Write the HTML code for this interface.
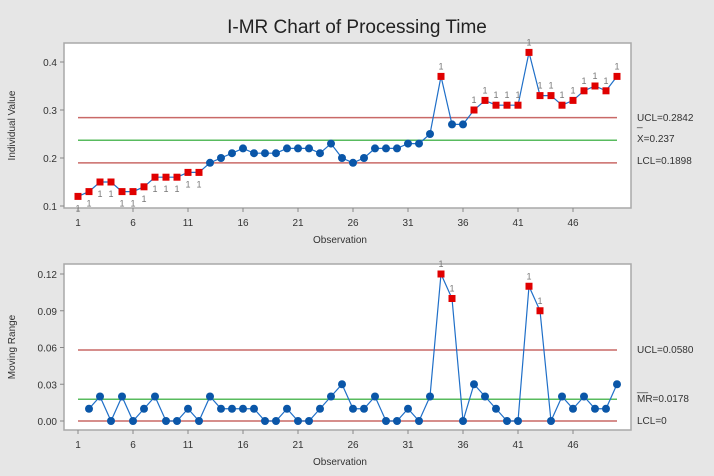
<!DOCTYPE html>
<html><head><meta charset="utf-8"><style>
html,body{margin:0;padding:0;background:#e6e6e6;}
svg{display:block;font-family:"Liberation Sans",sans-serif;}
</style></head><body>
<svg id="c" width="714" height="476" viewBox="0 0 714 476" xmlns="http://www.w3.org/2000/svg">
<rect x="0" y="0" width="714" height="476" fill="#e6e6e6"/>
<text x="357" y="33" text-anchor="middle" font-size="19" fill="#222">I-MR Chart of Processing Time</text>
</svg>
<script>
const observations = [1,2,3,4,5,6,7,8,9,10,11,12,13,14,15,16,17,18,19,20,21,22,23,24,25,26,27,28,29,30,31,32,33,34,35,36,37,38,39,40,41,42,43,44,45,46,47,48,49,50];
const individualValues = [0.12,0.13,0.15,0.15,0.13,0.13,0.14,0.16,0.16,0.16,0.17,0.17,0.19,0.20,0.21,0.22,0.21,0.21,0.21,0.22,0.22,0.22,0.21,0.23,0.20,0.19,0.20,0.22,0.22,0.22,0.23,0.23,0.25,0.37,0.27,0.27,0.30,0.32,0.31,0.31,0.31,0.42,0.33,0.33,0.31,0.32,0.34,0.35,0.34,0.37];
const individualFlag = [1,1,1,1,1,1,1,1,1,1,1,1,0,0,0,0,0,0,0,0,0,0,0,0,0,0,0,0,0,0,0,0,0,1,0,0,1,1,1,1,1,1,1,1,1,1,1,1,1,1];
const movingRanges = [null,0.01,0.02,0,0.02,0,0.01,0.02,0,0,0.01,0,0.02,0.01,0.01,0.01,0.01,0,0,0.01,0,0,0.01,0.02,0.03,0.01,0.01,0.02,0,0,0.01,0,0.02,0.12,0.10,0,0.03,0.02,0.01,0,0,0.11,0.09,0,0.02,0.01,0.02,0.01,0.01,0.03];
const mrFlag = [0,0,0,0,0,0,0,0,0,0,0,0,0,0,0,0,0,0,0,0,0,0,0,0,0,0,0,0,0,0,0,0,0,1,1,0,0,0,0,0,0,1,1,0,0,0,0,0,0,0];
const xTicks = [1,6,11,16,21,26,31,36,41,46];
const iTicks = [0.1,0.2,0.3,0.4];
const iTickLabels = ["0.1","0.2","0.3","0.4"];
const mrTicks = [0,0.03,0.06,0.09,0.12];
const mrTickLabels = ["0.00","0.03","0.06","0.09","0.12"];
const iLimits = {ucl:0.2842, center:0.237, lcl:0.1898};
const mrLimits = {ucl:0.058, center:0.0178, lcl:0};

const NS="http://www.w3.org/2000/svg";
const svg=document.getElementById('c');
function mk(tag,attrs,parent){const e=document.createElementNS(NS,tag);for(const k in attrs)e.setAttribute(k,attrs[k]);(parent||svg).appendChild(e);return e;}
const xScale=o=>78+(o-1)*11.0;

function panel(cfg){
  const g=mk('g',{});
  
  
  const fr=mk('rect',{x:64,y:cfg.top,width:567,height:cfg.bottom-cfg.top,fill:'#fff',stroke:'#a8a8a8','stroke-width':1.5},g);
  
  
  const ys=cfg.y;
  cfg.ticks.forEach((t,i)=>{
    mk('line',{x1:60,x2:64,y1:ys(t),y2:ys(t),stroke:'#888'},g);
    const tx=mk('text',{x:57,y:ys(t)+4,'text-anchor':'end','font-size':10,fill:'#333'},g);
    tx.textContent=cfg.tickLabels[i];
    
    
  });
  xTicks.forEach(t=>{
    mk('line',{x1:xScale(t),x2:xScale(t),y1:cfg.bottom,y2:cfg.bottom+4,stroke:'#888'},g);
    const tx=mk('text',{x:xScale(t),y:cfg.bottom+18,'text-anchor':'middle','font-size':10,fill:'#333'},g);
    tx.textContent=String(t);
    
    
  });
  const xt=mk('text',{x:340,y:cfg.bottom+35,'text-anchor':'middle','font-size':10,fill:'#333'},g);
  xt.textContent='Observation';
  
  
  const yt=mk('text',{x:0,y:0,'text-anchor':'middle','font-size':10,fill:'#333',transform:`translate(15,${(cfg.top+cfg.bottom)/2}) rotate(-90)`},g);
  yt.textContent=cfg.yTitle;
  
  
  // limit lines
  [['ucl','#c0504d'],['center','#3cb043'],['lcl','#c0504d']].forEach(([k,c])=>{
    const l=mk('line',{x1:78,x2:617,y1:ys(cfg.lim[k]),y2:ys(cfg.lim[k]),stroke:c,'stroke-width':1.5,opacity:0.85},g);
    
    
  });
  cfg.limLabels.forEach(L=>{
    const t=mk('text',{x:637,y:L.y,'font-size':10,fill:'#333'},g);
    t.textContent=L.t;
    
    
  });
  // series line
  let pts=[];
  cfg.vals.forEach((v,i)=>{if(v!==null)pts.push(xScale(observations[i])+','+ys(v));});
  const pl=mk('polyline',{points:pts.join(' '),fill:'none',stroke:'#1f6fc8','stroke-width':1.2},g);
  
  
  cfg.vals.forEach((v,i)=>{
    if(v===null)return;
    const x=xScale(observations[i]),y=ys(v);
    if(cfg.flag[i]){
      const r=mk('rect',{x:x-3.5,y:y-3.5,width:7,height:7,fill:'#e00000'},g);
      
      
      const below=cfg.below(i);
      const t=mk('text',{x:x+(below?(i%2?0:0):0),y:below?y+15:y-7,'text-anchor':'middle','font-size':9,fill:'#777'},g);
      t.textContent='1';
      
      
    } else {
      const c=mk('circle',{cx:x,cy:y,r:4,fill:'#0a56a8'},g);
      
      
    }
  });
}

panel({name:'individuals-chart',top:43,bottom:208,y:v=>206-(v-0.1)*480,ticks:iTicks,tickLabels:iTickLabels,yTitle:'Individual Value',
  lim:iLimits,vals:individualValues,flag:individualFlag,below:i=>i<12,
  limLabels:[{t:'UCL=0.2842',y:121,n:'ucl-label'},{t:'_',y:126,n:'xbar-bar'},{t:'X=0.237',y:142,n:'center-label'},{t:'LCL=0.1898',y:164,n:'lcl-label'}]});
panel({name:'moving-range-chart',top:264,bottom:430,y:v=>421-v*1225,ticks:mrTicks,tickLabels:mrTickLabels,yTitle:'Moving Range',
  lim:mrLimits,vals:movingRanges,flag:mrFlag,below:i=>false,
  limLabels:[{t:'UCL=0.0580',y:353,n:'mr-ucl-label'},{t:'__',y:391,n:'mrbar-bar'},{t:'MR=0.0178',y:402,n:'mr-center-label'},{t:'LCL=0',y:424,n:'mr-lcl-label'}]});
</script>
</body></html>
